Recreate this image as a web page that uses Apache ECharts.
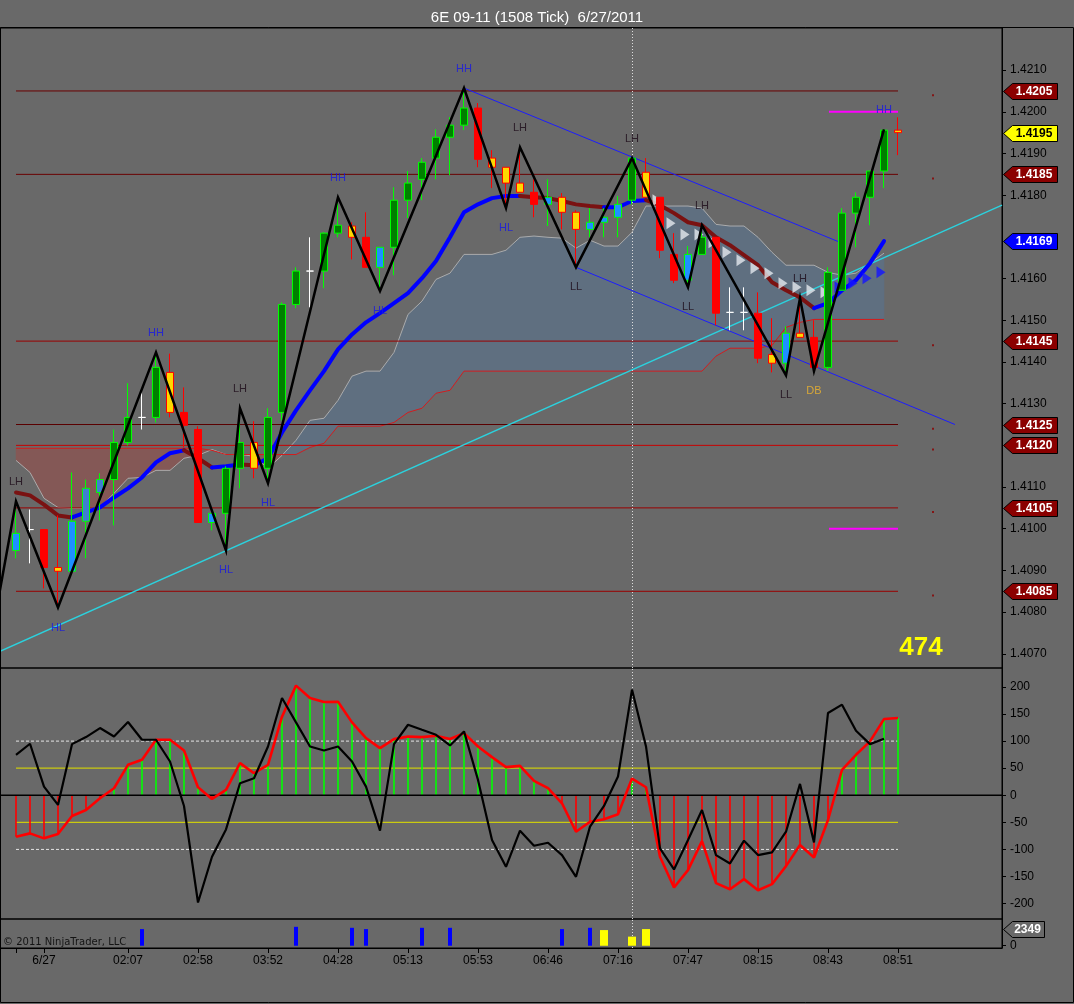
<!DOCTYPE html>
<html>
<head>
<meta charset="utf-8">
<title>6E 09-11 (1508 Tick) 6/27/2011</title>
<script src="https://cdn.jsdelivr.net/npm/echarts@6.0.0/dist/echarts.min.js"></script>
<style>
html,body{margin:0;padding:0;background:#696969;overflow:hidden;}
#chart{width:1074px;height:1004px;}
</style>
</head>
<body>
<div id="chart"></div>
<script>
// ================= DATA =================
const chartTitle = '6E 09-11 (1508 Tick)  6/27/2011';
const tickCountText = '474';
const copyrightText = '\u00a9 2011 NinjaTrader, LLC';

const timeTickBars   = [0, 2, 8, 13, 18, 23, 28, 33, 38, 43, 48, 53, 58, 63];
const timeTickLabels = ['', '6/27', '02:07', '02:58', '03:52', '04:28', '05:13', '05:53', '06:46', '07:16', '07:47', '08:15', '08:43', '08:51'];
const priceTicks = [1.4070, 1.4080, 1.4090, 1.4100, 1.4110, 1.4130, 1.4140, 1.4150, 1.4160, 1.4180, 1.4190, 1.4200, 1.4210];
const cciTicks = [-200, -150, -100, -50, 0, 50, 100, 150, 200];
const signalTicks = [0];

// OHLC per bar (bar index = position)
const opens = [1.40948,1.40998,1.40998,1.40907,1.40898,1.41018,1.41087,1.41118,1.41207,1.41267,
  1.41267,1.41375,1.41279,1.41238,1.41015,1.41037,1.41145,1.41207,1.41145,1.41279,
  1.41538,1.41618,1.41618,1.41709,1.41726,1.41699,1.41627,1.41675,1.41788,1.41838,
  1.41889,1.41939,1.41968,1.42009,1.41889,1.41867,1.41829,1.41807,1.41778,1.41795,
  1.41759,1.41718,1.41735,1.41747,1.41788,1.41855,1.41795,1.41658,1.41596,1.41658,
  1.41699,1.41519,1.41519,1.41517,1.41418,1.41397,1.41469,1.41459,1.41387,1.41572,
  1.41757,1.41795,1.41858,1.41956];
const closes = [1.40989,1.40998,1.40907,1.40898,1.41018,1.41097,1.41118,1.41207,1.41267,1.41267,
  1.41387,1.41279,1.41248,1.41015,1.41037,1.41145,1.41207,1.41145,1.41267,1.41538,
  1.41618,1.41618,1.41709,1.41728,1.41699,1.41627,1.41675,1.41788,1.41829,1.41879,
  1.41939,1.41968,1.42009,1.41886,1.41867,1.41829,1.41807,1.41778,1.41795,1.41759,
  1.41718,1.41735,1.41747,1.41778,1.41889,1.41795,1.41668,1.41596,1.41658,1.41699,
  1.41517,1.41519,1.41519,1.41409,1.41397,1.41469,1.41459,1.41387,1.41615,1.41757,
  1.41795,1.41858,1.41956,1.41950];
const highs = [1.41066,1.41046,1.40998,1.41032,1.41135,1.41118,1.41133,1.41238,1.41349,1.41330,
  1.41423,1.41420,1.41339,1.41246,1.41037,1.41150,1.41289,1.41258,1.41289,1.41543,
  1.41627,1.41699,1.41711,1.41795,1.41735,1.41759,1.41675,1.41819,1.41858,1.41889,
  1.41958,1.41987,1.42057,1.42021,1.41908,1.41867,1.41915,1.41838,1.41838,1.41805,
  1.41764,1.41769,1.41769,1.41798,1.41889,1.41889,1.41795,1.41709,1.41678,1.41728,
  1.41699,1.41579,1.41579,1.41567,1.41505,1.41486,1.41553,1.41500,1.41627,1.41769,
  1.41807,1.41858,1.41958,1.41987];
const lows = [1.40929,1.40917,1.40857,1.40811,1.40893,1.40929,1.41020,1.41008,1.41200,1.41238,
  1.41255,1.41267,1.41195,1.41015,1.40996,1.40948,1.41097,1.41121,1.41109,1.41260,
  1.41529,1.41531,1.41577,1.41699,1.41646,1.41627,1.41570,1.41608,1.41745,1.41788,
  1.41838,1.41848,1.41956,1.41867,1.41817,1.41769,1.41807,1.41747,1.41726,1.41718,
  1.41627,1.41699,1.41699,1.41699,1.41778,1.41795,1.41649,1.41589,1.41579,1.41658,
  1.41488,1.41476,1.41476,1.41397,1.41375,1.41368,1.41459,1.41378,1.41378,1.41572,
  1.41675,1.41728,1.41817,1.41896];
// candle paint kind: G green up, B/S blue up, R red down, Y yellow down, W doji
const candleKinds = ['B','W','R','Y','B','S','S','G','G','W',
  'G','Y','R','R','B','G','G','Y','G','G',
  'G','W','G','G','Y','R','B','G','G','G',
  'G','G','G','R','Y','Y','Y','R','B','Y',
  'Y','B','B','B','G','Y','R','R','B','G',
  'R','W','W','R','Y','B','Y','R','G','G',
  'G','G','G','Y'];

// swing pivots (zigzag)
const pivotBars   = [0, 3, 10, 15, 16, 18, 23, 26, 32, 35, 36, 40, 44, 48, 49, 55, 56, 57, 62];
const pivotSides  = ['H','L','H','L','H','L','H','L','H','L','H','L','H','L','H','L','H','L','H'];
const pivotLabels = ['LH','HL','HH','HL','LH','HL','HH','HL','HH','HL','LH','LL','LH','LL','LH','LL','LH','DB','HH'];
const zigzagLead  = [-1.15, 1.40852];

// cloud spans
const cloudA = [1.41164,1.41135,1.41073,1.41051,1.41049,1.41049,1.41051,1.41085,1.41121,1.41123,
  1.41140,1.41140,1.41169,1.41176,1.41190,1.41178,1.41178,1.41174,1.41145,1.41176,
  1.41212,1.41260,1.41265,1.41308,1.41366,1.41378,1.41378,1.41423,1.41514,1.41546,
  1.41598,1.41613,1.41658,1.41658,1.41658,1.41668,1.41699,1.41702,1.41699,1.41697,
  1.41673,1.41692,1.41678,1.41678,1.41711,1.41774,1.41774,1.41774,1.41774,1.41769,
  1.41730,1.41726,1.41726,1.41699,1.41663,1.41632,1.41632,1.41632,1.41615,1.41608,
  1.41613,1.41637,1.41661];
const cloudB = [1.41193,1.41193,1.41193,1.41193,1.41193,1.41193,1.41193,1.41193,1.41193,1.41193,
  1.41193,1.41193,1.41193,1.41193,1.41188,1.41178,1.41178,1.41178,1.41178,1.41178,
  1.41178,1.41195,1.41205,1.41246,1.41246,1.41246,1.41246,1.41255,1.41279,1.41289,
  1.41325,1.41332,1.41378,1.41378,1.41378,1.41378,1.41378,1.41378,1.41378,1.41378,
  1.41378,1.41378,1.41378,1.41378,1.41378,1.41378,1.41378,1.41378,1.41378,1.41378,
  1.41414,1.41433,1.41433,1.41433,1.41440,1.41483,1.41495,1.41502,1.41502,1.41502,
  1.41502,1.41502,1.41502];

// moving average
const ma = [1.41087,1.41080,1.41058,1.41032,1.41027,1.41039,1.41051,1.41075,1.41097,1.41123,
  1.41159,1.41181,1.41188,1.41169,1.41147,1.41150,1.41154,1.41152,1.41169,1.41231,
  1.41284,1.41332,1.41378,1.41430,1.41466,1.41495,1.41517,1.41541,1.41565,1.41601,
  1.41642,1.41699,1.41759,1.41778,1.41793,1.41798,1.41798,1.41795,1.41793,1.41786,
  1.41778,1.41774,1.41771,1.41771,1.41786,1.41788,1.41776,1.41757,1.41735,1.41728,
  1.41699,1.41680,1.41656,1.41632,1.41591,1.41572,1.41555,1.41529,1.41541,1.41572,
  1.41596,1.41637,1.41690];

// trend markers (triangles)
const whiteTriBars = [46,47,48,49,50,51,52,53,54,55,56,57,58];
const whiteTriVals = [1.41788,1.41733,1.41706,1.41706,1.41687,1.41663,1.41644,1.41625,1.41613,1.41589,1.41579,1.41572,1.41567];
const blueTriBars = [59,60,61,62];
const blueTriVals = [1.41579,1.41589,1.41601,1.41615];

// drawn lines
const trendLineCyan = [[-1.143, 1.40706], [70.43, 1.41776]];
const channelUpper  = [[32, 1.42057], [59, 1.41685]];
const channelLower  = [[40, 1.41627], [67.07, 1.41250]];
const magentaTop    = [[58.07, 1.4200], [63, 1.4200]];
const magentaBottom = [[58.07, 1.4100], [63, 1.4100]];

// horizontal levels
const levelPrices = [1.4205, 1.4185, 1.4145, 1.4125, 1.4120, 1.4105, 1.4085];
const levelColors = ['#6a0000', '#6a0000', '#9a0000', '#5a0000', '#c80000', '#9a0000', '#9a0000'];
const levelStartBar = 0, levelEndBar = 63;
const levelDotBar = 65.5;
const levelDots = [1.4204, 1.4184, 1.4144, 1.4124, 1.4119, 1.4104, 1.4084];

// CCI panel
const cciSlow = [-76.5,-70.4,-79.6,-71.6,-38.3,-27.2,-5.6,13,56.2,65.4,
  102.5,102.5,82.7,14.8,-6.8,9.9,59.3,40.7,56.2,145,
  202.5,179.6,172.2,172.8,134.6,105.6,87,103.7,108.6,107.4,
  109.9,104,114.8,90.1,70.4,51.9,54.3,26.5,13,-14.8,
  -67.3,-48.8,-44.4,-35.2,30.9,14.8,-113.6,-170.4,-138.3,-84.6,
  -162.3,-173.5,-154.9,-175.3,-164.2,-130.9,-92,-114.8,-45.7,46.9,
  74.7,99.4,140.7,142.6];
const cciFast = [74.7,95.1,16,-17.9,94.4,107.4,124.1,108.6,135.2,102.5,
  102.5,62.3,-19.8,-198,-113.6,-63,22.2,31.5,90.1,179.6,
  134.6,90.1,82.7,90.1,62.3,16,-65.4,94.4,130.2,120.9,
  111.7,92,117.9,28.4,-82.7,-132.1,-65.4,-93.2,-87.7,-110.5,
  -150.6,-58,-19.8,34.6,195.1,90.1,-98.1,-137,-82.7,-27.2,
  -110.5,-125.9,-83.9,-110.5,-105.6,-67.3,21,-87,151.9,167.3,
  119.1,94.4,104.3];
const cciLevelsDashed = [100, -100];
const cciLevelsYellow = [50, -50];

// signal panel
const signalBars   = [9, 20, 24, 25, 29, 31, 39, 41, 42, 44, 45];
const signalValues = [2350, 2670, 2530, 2350, 2530, 2530, 2350, 2530, 2210, 1285, 2350];
const signalKinds  = ['B','B','B','B','B','B','B','B','Y','Y','Y'];
const signalMarkerValue = 2349;

const crosshairBar = 44;

// ================= LAYOUT / STYLE =================
const X_MIN = -8 / 7, X_MAX = 986 / 14;
const PRICE_MIN = 1.40666, PRICE_MAX = 1.42201;
const CCI_MIN = -228.5, CCI_MAX = 235;
const SIG_MIN = -318, SIG_MAX = 3773;
const FONT = 'Arial, "Liberation Sans", sans-serif';

const candlePaint = {
  G: { body: '#008000', line: '#00ff00' },
  B: { body: '#1e90ff', line: '#00ff00' },
  S: { body: '#3f7fd0', line: '#00ff00' },
  R: { body: '#ff0000', line: '#ff0000' },
  Y: { body: '#ffd700', line: '#ff0000' },
  W: { body: '#ffffff', line: '#ffffff' }
};

// ---- derived geometry (in data units) ----
const cloudRuns = [];
(function () {
  let run = null;
  for (let i = 0; i < cloudA.length; i++) {
    const d = cloudA[i] - cloudB[i];
    const up = d >= 0;
    if (i === 0) { run = { up, a: [], b: [] }; cloudRuns.push(run); }
    else {
      const dp = cloudA[i - 1] - cloudB[i - 1];
      if ((dp >= 0) !== up) {
        const t = dp / (dp - d);
        const xc = i - 1 + t, yc = cloudA[i - 1] + (cloudA[i] - cloudA[i - 1]) * t;
        run.a.push([xc, yc]); run.b.push([xc, yc]);
        run = { up, a: [[xc, yc]], b: [[xc, yc]] }; cloudRuns.push(run);
      }
    }
    run.a.push([i, cloudA[i]]); run.b.push([i, cloudB[i]]);
  }
})();

const maRuns = [];
for (let i = 0; i < ma.length - 1; i++) {
  const up = ma[i + 1] >= ma[i];
  const last = maRuns[maRuns.length - 1];
  if (last && last.up === up) last.pts.push([i + 1, ma[i + 1]]);
  else maRuns.push({ up, pts: [[i, ma[i]], [i + 1, ma[i + 1]]] });
}

const priceMarkers = levelPrices.map(p => ({ value: p, fill: '#8b0000', color: '#ffffff' }));
priceMarkers.push({ value: closes[closes.length - 1], fill: '#ffff00', color: '#000000' });
priceMarkers.push({ value: ma[ma.length - 1], fill: '#0000ff', color: '#ffffff' });
const signalMarkers = [{ value: signalMarkerValue, fill: '#696969', color: '#ffffff' }];

function markerRenderer(list, w, digits) {
  return function (params, api) {
    const m = list[params.dataIndex];
    const pt = api.coord([api.value(0), api.value(1)]);
    const x0 = Math.round(pt[0]) + 1.5, y0 = Math.round(pt[1]) + 0.5;
    const h = 8, tip = 9;
    return {
      type: 'group',
      children: [
        { type: 'polygon', shape: { points: [[x0, y0], [x0 + tip, y0 - h], [x0 + w, y0 - h], [x0 + w, y0 + h], [x0 + tip, y0 + h]] },
          style: { fill: m.fill, stroke: '#000', lineWidth: 1 } },
        { type: 'text', style: { text: m.value.toFixed(digits), x: x0 + tip + (w - tip) / 2 - 1, y: y0 + 0.5,
          fill: m.color, font: 'bold 12px ' + FONT, align: 'center', verticalAlign: 'middle' } }
      ]
    };
  };
}

function hiddenCrosshair(xi, yi, y) {
  return {
    type: 'line', xAxisIndex: xi, yAxisIndex: yi, data: [[0, y], [63, y]], symbol: 'none',
    lineStyle: { opacity: 0 }, silent: true, z: 20,
    markLine: { silent: true, symbol: ['none', 'none'], label: { show: false },
      lineStyle: { type: [1, 2], color: '#dcdcdc', width: 1 }, data: [{ xAxis: crosshairBar }] }
  };
}

const series = [];

// cloud fill
series.push({
  type: 'custom', xAxisIndex: 0, yAxisIndex: 0, z: 1, silent: true,
  data: cloudRuns.map(r => [r.a[0][0], r.a[0][1]]),
  renderItem: function (params, api) {
    const r = cloudRuns[params.dataIndex];
    const pts = r.a.concat(r.b.slice().reverse()).map(p => api.coord(p));
    const c = r.up ? '#5f6f80' : '#845856';
    return { type: 'polygon', shape: { points: pts }, style: { fill: c, stroke: c, lineWidth: 0.5 } };
  }
});
// cloud borders
series.push({ type: 'line', xAxisIndex: 0, yAxisIndex: 0, z: 2, symbol: 'none', silent: true,
  data: cloudA.map((v, i) => [i, v]), lineStyle: { color: '#ababab', width: 1 } });
series.push({ type: 'line', xAxisIndex: 0, yAxisIndex: 0, z: 2, symbol: 'none', silent: true,
  data: cloudB.map((v, i) => [i, v]), lineStyle: { color: '#d41c1c', width: 1 } });

// levels
levelPrices.forEach((p, k) => {
  series.push({ type: 'line', xAxisIndex: 0, yAxisIndex: 0, z: 3, symbol: 'none', silent: true,
    data: [[levelStartBar, p], [levelEndBar, p]], lineStyle: { color: levelColors[k], width: 1 } });
});
series.push({ type: 'scatter', xAxisIndex: 0, yAxisIndex: 0, z: 3, silent: true, symbol: 'rect', symbolSize: 2,
  data: levelDots.map(p => [levelDotBar, p]), itemStyle: { color: '#8b0000' } });

// drawn lines
series.push({ type: 'line', xAxisIndex: 0, yAxisIndex: 0, z: 3, symbol: 'none', silent: true,
  data: trendLineCyan, lineStyle: { color: '#2bd2de', width: 1.4 } });
[channelUpper, channelLower].forEach(d => series.push({ type: 'line', xAxisIndex: 0, yAxisIndex: 0, z: 3, symbol: 'none',
  silent: true, data: d, lineStyle: { color: '#1c1cff', width: 1 } }));

// moving average runs
maRuns.forEach(r => series.push({ type: 'line', xAxisIndex: 0, yAxisIndex: 0, z: 4, symbol: 'none', silent: true,
  data: r.pts, lineStyle: { color: r.up ? '#0000ff' : '#7a1212', width: 4, cap: 'round', join: 'round' } }));

// triangles
series.push({ type: 'scatter', xAxisIndex: 0, yAxisIndex: 0, z: 5, silent: true, symbol: 'triangle',
  symbolSize: [12, 9], symbolRotate: -90, symbolOffset: [-3, 0],
  data: whiteTriBars.map((b, k) => [b, whiteTriVals[k]]), itemStyle: { color: '#e4e8ee' } });
series.push({ type: 'scatter', xAxisIndex: 0, yAxisIndex: 0, z: 5, silent: true, symbol: 'triangle',
  symbolSize: [12, 9], symbolRotate: -90, symbolOffset: [-3, 0],
  data: blueTriBars.map((b, k) => [b, blueTriVals[k]]), itemStyle: { color: '#1414ff' } });

// candles
series.push({
  type: 'candlestick', xAxisIndex: 0, yAxisIndex: 0, z: 6, silent: true, barWidth: 8,
  data: opens.map((o, i) => {
    const p = candlePaint[candleKinds[i]];
    return { value: [i, o, closes[i], lows[i], highs[i]],
      itemStyle: { color: p.body, color0: p.body, borderColor: p.line, borderColor0: p.line, borderColorDoji: p.line, borderWidth: 1 } };
  })
});

// zigzag
const zigzagData = [zigzagLead].concat(pivotBars.map((b, k) => [b, pivotSides[k] === 'H' ? highs[b] : lows[b]]));
series.push({ type: 'line', xAxisIndex: 0, yAxisIndex: 0, z: 7, symbol: 'none', silent: true,
  data: zigzagData, lineStyle: { color: '#000', width: 2.5, join: 'miter' } });

// pivot labels
const pivotColor = { HH: '#1818e6', HL: '#1818e6', LH: '#1c0a18', LL: '#1c0a18', DB: '#f2b62c' };
series.push({
  type: 'scatter', xAxisIndex: 0, yAxisIndex: 0, z: 8, silent: true, symbolSize: 1,
  itemStyle: { color: 'rgba(0,0,0,0)' },
  data: pivotBars.map((b, k) => ({
    value: [b, pivotSides[k] === 'H' ? highs[b] : lows[b]],
    label: { show: true, formatter: pivotLabels[k], position: pivotSides[k] === 'H' ? 'top' : 'bottom',
      distance: pivotSides[k] === 'H' ? 13 : 14, color: pivotColor[pivotLabels[k]], fontSize: 11, fontFamily: FONT }
  }))
});

// magenta lines
[magentaTop, magentaBottom].forEach(d => series.push({ type: 'line', xAxisIndex: 0, yAxisIndex: 0, z: 8, symbol: 'none',
  silent: true, data: d, lineStyle: { color: '#ff00ff', width: 2 } }));

// crosshair
series.push(hiddenCrosshair(0, 0, 1.414));
series.push(hiddenCrosshair(1, 1, 0));
series.push(hiddenCrosshair(2, 2, 0));

// price markers
series.push({ type: 'custom', xAxisIndex: 0, yAxisIndex: 0, z: 30, clip: false, silent: true,
  data: priceMarkers.map(m => [X_MAX, m.value]), renderItem: markerRenderer(priceMarkers, 54, 4) });

// ---- CCI panel ----
cciLevelsDashed.forEach(v => series.push({ type: 'line', xAxisIndex: 1, yAxisIndex: 1, z: 2, symbol: 'none', silent: true,
  data: [[0, v], [63, v]], lineStyle: { color: '#e4e4e4', width: 1, type: [3, 2] } }));
cciLevelsYellow.forEach(v => series.push({ type: 'line', xAxisIndex: 1, yAxisIndex: 1, z: 2, symbol: 'none', silent: true,
  data: [[0, v], [63, v]], lineStyle: { color: '#caca10', width: 1.3 } }));
series.push({ type: 'bar', xAxisIndex: 1, yAxisIndex: 1, z: 3, silent: true, barWidth: 1.6,
  data: cciSlow.map((v, i) => ({ value: [i, v], itemStyle: { color: v >= 0 ? '#00ff00' : '#ff0000' } })) });
series.push({ type: 'line', xAxisIndex: 1, yAxisIndex: 1, z: 4, symbol: 'none', silent: true,
  data: [[X_MIN, 0], [X_MAX, 0]], lineStyle: { color: '#000', width: 1.5 } });
series.push({ type: 'line', xAxisIndex: 1, yAxisIndex: 1, z: 5, symbol: 'none', silent: true,
  data: cciSlow.map((v, i) => [i, v]), lineStyle: { color: '#ff0000', width: 2.6 } });
series.push({ type: 'line', xAxisIndex: 1, yAxisIndex: 1, z: 6, symbol: 'none', silent: true,
  data: cciFast.map((v, i) => [i, v]), lineStyle: { color: '#000000', width: 2.2 } });

// ---- signal panel ----
series.push({
  type: 'custom', xAxisIndex: 2, yAxisIndex: 2, z: 5, silent: true,
  data: signalBars.map((b, k) => [b, signalValues[k]]),
  renderItem: function (params, api) {
    const x = api.value(0), v = api.value(1);
    const p0 = api.coord([x, 0]), p1 = api.coord([x, v]);
    const yellow = signalKinds[params.dataIndex] === 'Y';
    const w = yellow ? 8 : 4;
    return { type: 'rect', shape: { x: Math.round(p0[0] - w / 2), y: p1[1], width: w, height: p0[1] - p1[1] },
      style: { fill: yellow ? '#ffff00' : '#0000ff' } };
  }
});
series.push({ type: 'custom', xAxisIndex: 2, yAxisIndex: 2, z: 30, clip: false, silent: true,
  data: signalMarkers.map(m => [X_MAX, m.value]), renderItem: markerRenderer(signalMarkers, 41, 0) });

// ================= OPTION =================
const tickLabelMap = {};
timeTickBars.forEach((b, k) => { tickLabelMap[b] = timeTickLabels[k]; });

function yAxisDef(grid, min, max, ticks, fmt) {
  return {
    type: 'value', gridIndex: grid, position: 'right', min: min, max: max,
    axisLine: { show: true, onZero: false, lineStyle: { color: '#000', width: 1 } },
    axisTick: { show: true, length: 4, lineStyle: { color: '#000' }, customValues: ticks },
    axisLabel: { show: true, customValues: ticks, formatter: fmt, color: '#000', fontSize: 12, fontFamily: FONT, margin: 8 },
    splitLine: { show: false }
  };
}

const option = {
  animation: false,
  backgroundColor: '#696969',
  title: { text: chartTitle, left: 'center', top: 5,
    textStyle: { color: '#ffffff', fontSize: 15, fontWeight: 'normal', fontFamily: FONT } },
  grid: [
    { left: 0, top: 28, width: 1002, height: 640, show: true, borderColor: '#000', borderWidth: 1, backgroundColor: 'transparent' },
    { left: 0, top: 668, width: 1002, height: 251, show: true, borderColor: '#000', borderWidth: 1, backgroundColor: 'transparent' },
    { left: 0, top: 919, width: 1002, height: 29, show: true, borderColor: '#000', borderWidth: 1, backgroundColor: 'transparent' }
  ],
  xAxis: [
    { type: 'value', gridIndex: 0, min: X_MIN, max: X_MAX, show: false },
    { type: 'value', gridIndex: 1, min: X_MIN, max: X_MAX, show: false },
    { type: 'value', gridIndex: 2, min: X_MIN, max: X_MAX, position: 'bottom',
      axisLine: { show: true, onZero: false, lineStyle: { color: '#000' } },
      axisTick: { show: true, length: 5, lineStyle: { color: '#000' }, customValues: timeTickBars },
      axisLabel: { show: true, customValues: timeTickBars, formatter: v => tickLabelMap[Math.round(v)] || '',
        color: '#000', fontSize: 12, fontFamily: FONT, margin: 7 },
      splitLine: { show: false } }
  ],
  yAxis: [
    yAxisDef(0, PRICE_MIN, PRICE_MAX, priceTicks, v => v.toFixed(4)),
    yAxisDef(1, CCI_MIN, CCI_MAX, cciTicks, v => String(Math.round(v))),
    yAxisDef(2, SIG_MIN, SIG_MAX, signalTicks, v => String(Math.round(v)))
  ],
  graphic: [
    { type: 'rect', silent: true, z: 100, shape: { x: 0.5, y: 27.5, width: 1073, height: 975 },
      style: { fill: null, stroke: '#000', lineWidth: 1 } },
    { type: 'text', silent: true, z: 100, x: 921, y: 648,
      style: { text: tickCountText, fill: '#ffff00', font: 'bold 26px ' + FONT, align: 'center', verticalAlign: 'middle' } },
    { type: 'text', silent: true, z: 100, x: 3, y: 942,
      style: { text: copyrightText, fill: '#141414', font: '10px "DejaVu Sans", Verdana, sans-serif', verticalAlign: 'middle' } }
  ],
  series: series
};

const chart = echarts.init(document.getElementById('chart'), null, { renderer: 'canvas', width: 1074, height: 1004 });
chart.setOption(option);
</script>
</body>
</html>
